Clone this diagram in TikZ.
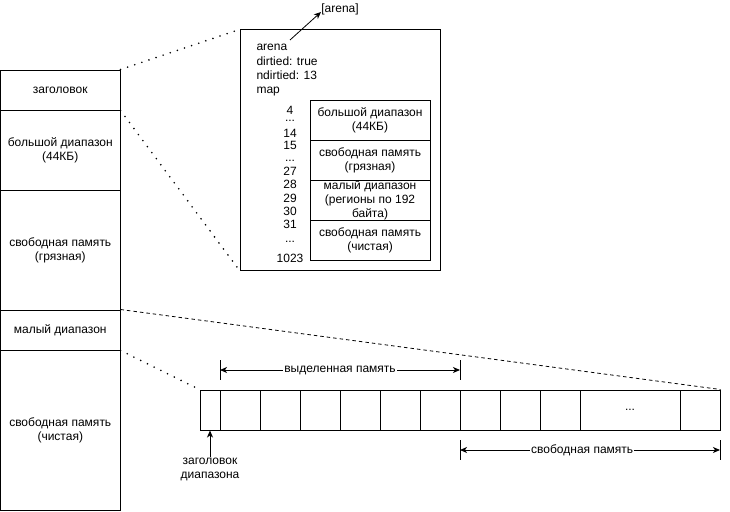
\documentclass[tikz,border=0pt]{standalone}
\usepackage{fontspec}
\setmainfont{Liberation Sans}
\usetikzlibrary{arrows.meta}
\begin{document}
\begin{tikzpicture}[x=1pt,y=-1pt,line width=1pt,
  every node/.style={font=\fontsize{12}{14}\selectfont, inner sep=0pt, align=center},
  lcol/.style={draw, minimum width=119.5pt},
  inbox/.style={draw, minimum width=120pt, minimum height=40pt},
  cell/.style={draw, minimum height=40pt},
  txt/.style={anchor=base west},
  num/.style={anchor=base},
  dotline/.style={line width=1.8pt, dash pattern=on 0pt off 7.5pt, line cap=round},
  dashline/.style={line width=0.8pt, dash pattern=on 3.5pt off 3pt},
  tip/.style={-{Stealth[length=7pt,width=6pt,inset=2pt]}},
  dimline/.style={{Stealth[length=7pt,width=6pt,inset=2pt]}-{Stealth[length=7pt,width=6pt,inset=2pt]}},
  lbl/.style={fill=white, inner xsep=1pt, inner ysep=1pt}]
\useasboundingbox (0,0) rectangle (730,511);
% left column
\node[lcol, minimum height=40pt] (hdr) at (60.25,90) {заголовок};
\node[lcol, minimum height=80pt] (big) at (60.25,150) {большой диапазон\\(44КБ)};
\node[lcol, minimum height=120pt] (dirty) at (60.25,250) {свободная память\\(грязная)};
\node[lcol, minimum height=40pt] (small) at (60.25,330) {малый диапазон};
\node[lcol, minimum height=160pt] (clean) at (60.25,430) {свободная память\\(чистая)};
% map box
\node[draw, minimum width=200pt, minimum height=240pt] (mapbox) at (340,150) {};
\node[txt] (arena) at (256,51) {arena};
\node[txt] (dirtied) at (256,65) {dirtied: true};
\node[txt] (ndirtied) at (256,79) {ndirtied: 13};
\node[txt] (map) at (256,93) {map};
\node (arenalbl) at (340,9) {[arena]};
\coordinate (atail) at (290,40);
\coordinate (ahead) at (321,12);
\draw[tip, line width=0.8pt] (atail) -- (ahead);
% numbers
\node[num] (n4) at (290,114.5) {4};
\node[num] (n4d) at (290,121.5) {...};
\node[num] (n14) at (290,137) {14};
\node[num] (n15) at (290,149.5) {15};
\node[num] (n15d) at (290,161) {...};
\node[num] (n27) at (290,175.5) {27};
\node[num] (n28) at (290,188.5) {28};
\node[num] (n29) at (290,202) {29};
\node[num] (n30) at (290,215) {30};
\node[num] (n31) at (290,228.5) {31};
\node[num] (n31d) at (290,242) {...};
\node[num] (n1023) at (290,262.5) {1023};
% inner boxes
\node[inbox] (ib1) at (370,120) {большой диапазон\\(44КБ)};
\node[inbox] (ib2) at (370,160) {свободная память\\(грязная)};
\node[inbox] (ib3) at (370,200) {малый диапазон\\(регионы по 192\\байта)};
\node[inbox] (ib4) at (370,240) {свободная память\\(чистая)};
% strip
\node[cell, minimum width=20pt] (c0) at (210,410) {};
\node[cell, minimum width=40pt] (c1) at (240,410) {};
\node[cell, minimum width=40pt] (c2) at (280,410) {};
\node[cell, minimum width=40pt] (c3) at (320,410) {};
\node[cell, minimum width=40pt] (c4) at (360,410) {};
\node[cell, minimum width=40pt] (c5) at (400,410) {};
\node[cell, minimum width=40pt] (c6) at (440,410) {};
\node[cell, minimum width=40pt] (c7) at (480,410) {};
\node[cell, minimum width=40pt] (c8) at (520,410) {};
\node[cell, minimum width=40pt] (c9) at (560,410) {};
\node[cell, minimum width=100pt] (c10) at (630,410) {...};
\node[cell, minimum width=40pt] (c11) at (700,410) {};
% zoom connectors
\draw[dotline] (hdr.north east) -- (mapbox.north west);
\draw[dotline] (hdr.south east) -- (mapbox.south west);
\draw[dashline] (small.north east) -- (c11.north east);
\draw[dotline] (small.south east) -- (c0.north west);
% allocated dimension
\coordinate (t1a) at (220,360); \coordinate (t1b) at (220,380);
\coordinate (t2a) at (460,360); \coordinate (t2b) at (460,380);
\coordinate (al) at (220,370); \coordinate (ar) at (460,370);
\draw (t1a) -- (t1b);
\draw (t2a) -- (t2b);
\draw[dimline] (al) -- node[lbl] (alloclbl) {выделенная память} (ar);
% free dimension
\coordinate (t3a) at (460,440); \coordinate (t3b) at (460,460);
\coordinate (t4a) at (720,440); \coordinate (t4b) at (720,460);
\coordinate (fl) at (460,450); \coordinate (fr) at (720,450);
\draw (t3a) -- (t3b);
\draw (t4a) -- (t4b);
\draw[dimline] (fl) -- node[lbl, pos=0.47] (freelbl) {свободная память} (fr);
% header label
\node (hlbl) at (210,469) {заголовок\\диапазона};
\coordinate (htail) at (210,457);
\draw[tip] (htail) -- (c0.south);
\end{tikzpicture}
\end{document}
